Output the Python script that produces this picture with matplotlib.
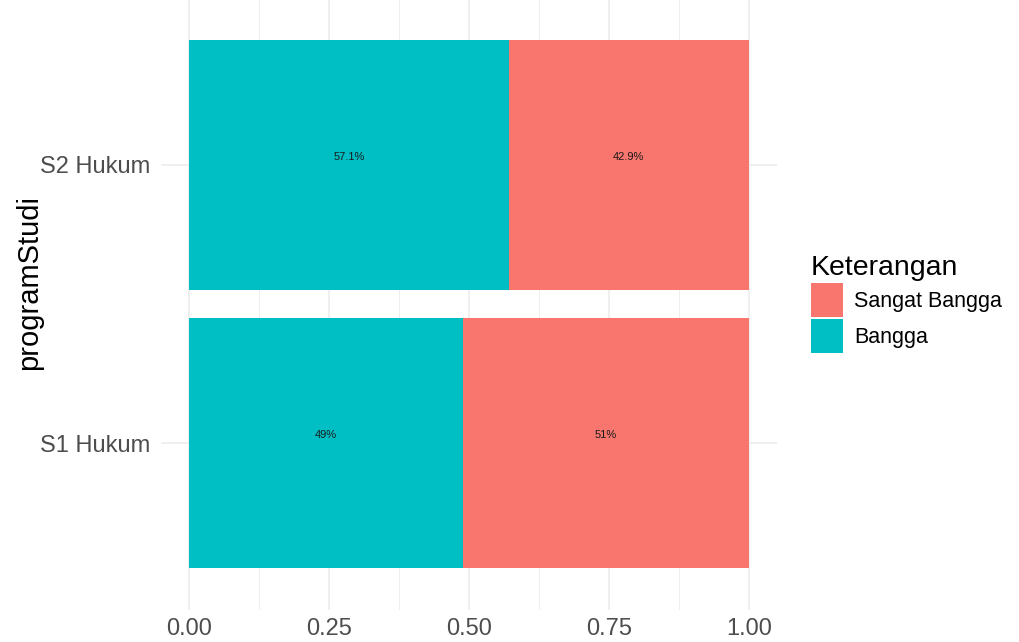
import matplotlib
matplotlib.use("Agg")
import matplotlib.pyplot as plt
from matplotlib.patches import Patch
import numpy as np

plt.rcParams['font.family'] = ['Liberation Sans', 'DejaVu Sans']

# data
programs = ['S1 Hukum', 'S2 Hukum']
bangga = [0.49, 0.571]
sangat_bangga = [0.51, 0.429]
bangga_labels = ['49%', '57.1%']
sangat_labels = ['51%', '42.9%']

col_bangga = '#00BFC4'
col_sangat = '#F8766D'
grid_col = '#EBEBEB'

fig = plt.figure(figsize=(10.19, 6.42), dpi=100)
ax = fig.add_axes([161 / 1019, 1 - 610 / 642, 616 / 1019, 612 / 642])

y = np.arange(1, len(programs) + 1)

# grid (drawn under bars)
for v in [0, 0.25, 0.5, 0.75, 1.0]:
    ax.axvline(v, color=grid_col, lw=1.1, zorder=0)
for v in [0.125, 0.375, 0.625, 0.875]:
    ax.axvline(v, color=grid_col, lw=0.6, zorder=0)
for v in y:
    ax.axhline(v, color=grid_col, lw=1.1, zorder=0)

ax.barh(y, bangga, height=0.9, color=col_bangga, zorder=2)
ax.barh(y, sangat_bangga, left=bangga, height=0.9, color=col_sangat, zorder=2)

for i in range(len(programs)):
    ax.text(bangga[i] / 2, y[i] + 0.03, bangga_labels[i], ha='center', va='center',
            fontsize=8, color='#1a1a1a', zorder=3)
    ax.text(bangga[i] + sangat_bangga[i] / 2, y[i] + 0.03, sangat_labels[i], ha='center',
            va='center', fontsize=8, color='#1a1a1a', zorder=3)

ax.set_xlim(-0.05, 1.05)
ax.set_ylim(0.4, 2.6)
ax.set_xticks([0, 0.25, 0.5, 0.75, 1.0])
ax.set_xticklabels(['0.00', '0.25', '0.50', '0.75', '1.00'])
ax.set_yticks(y)
ax.set_yticklabels(programs)
ax.tick_params(axis='both', length=0, labelsize=17, labelcolor='#4D4D4D')
ax.tick_params(axis='x', pad=6)
ax.tick_params(axis='y', pad=8)
for s in ax.spines.values():
    s.set_visible(False)

ax.set_ylabel('programStudi', fontsize=21, color='black')
ax.yaxis.set_label_coords(-0.192, 0.535)

handles = [Patch(facecolor=col_sangat, label='Sangat Bangga'),
           Patch(facecolor=col_bangga, label='Bangga')]
leg = fig.legend(handles=handles, title='Keterangan', loc='center left',
                 bbox_to_anchor=(796 / 1019, 1 - 304 / 642), frameon=False,
                 fontsize=15.5, title_fontsize=20.5, handlelength=1.5,
                 handleheight=2.05, labelspacing=0.1, handletextpad=0.5,
                 borderpad=0.2)
leg._legend_box.align = 'left'

fig.savefig('out.png', dpi=100)
